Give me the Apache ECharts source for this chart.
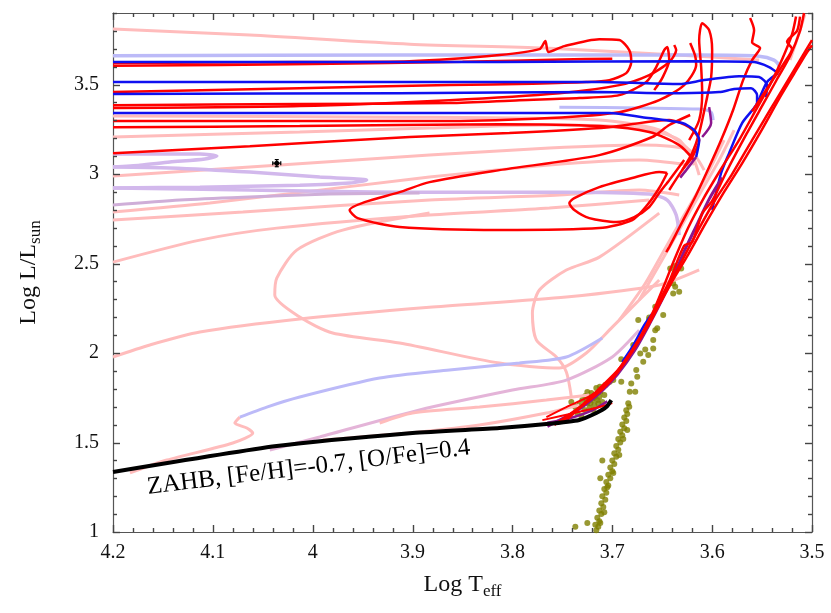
<!DOCTYPE html>
<html>
<head>
<meta charset="utf-8">
<script src="https://cdn.jsdelivr.net/npm/echarts@6/dist/echarts.min.js"></script>
<style>
html, body { margin: 0; padding: 0; background: #fff; }
#hrd { width: 831px; height: 613px; }
</style>
</head>
<body>
<div id="hrd"></div>
<script>
// [Log Teff, Log L] pairs

const zahb = [[4.2,1.335],[4.036,1.48],[3.9,1.553],[3.813,1.581],[3.766,1.603],[3.733,1.626],[3.716,1.665],[3.706,1.698],[3.701,1.737]];

// light pink tracks
const pinkTop = [[4.2,3.810],[4.063,3.777],[3.903,3.726],[3.768,3.704],[3.613,3.659],[3.553,3.637]];
const pink2 = [[4.2,3.324],[3.913,3.318],[3.713,3.302],[3.653,3.246],[3.623,3.134],[3.613,2.994]];
const pink3 = [[4.2,3.207],[4.013,3.235],[3.883,3.257],[3.763,3.274],[3.673,3.257],[3.633,3.190],[3.618,3.050]];
const pink4 = [[4.2,2.989],[3.883,3.106],[3.763,3.145],[3.673,3.162],[3.623,3.134],[3.608,3.022]];
const pink5 = [[4.2,2.788],[4.103,2.838],[3.883,2.983],[3.763,3.050],[3.673,3.078],[3.623,3.050]];
const pink6 = [[4.2,2.743],[4.070,2.788],[3.883,2.855],[3.753,2.883],[3.673,2.911],[3.633,2.883]];
const pink7 = [[4.2,2.508],[4.113,2.631],[4.036,2.698],[3.883,2.771],[3.763,2.810],[3.663,2.855]];
const pink8 = [[3.883,2.782],[3.970,2.687],[4.016,2.575],[4.036,2.419],[4.038,2.324],[4.013,2.201],[3.980,2.112],[3.913,2.056],[3.813,1.944],[3.753,1.916],[3.726,2.0],[3.700,2.145],[3.673,2.296],[3.653,2.408]];
const pinkS = [[3.653,2.782],[3.713,2.536],[3.746,2.464],[3.773,2.352],[3.780,2.223],[3.776,2.073],[3.756,1.978],[3.746,1.894],[3.741,1.754]];
const pink9 = [[4.2,1.978],[4.163,2.045],[4.113,2.117],[4.013,2.190],[3.880,2.257],[3.746,2.313],[3.653,2.380],[3.613,2.464]];
const pink10 = [[4.043,1.458],[3.993,1.531],[3.893,1.682],[3.800,1.793],[3.746,1.849],[3.700,1.978],[3.673,2.128]];
const pinkL2 = [[3.990,1.514],[3.953,1.531],[3.893,1.559],[3.833,1.598],[3.766,1.665],[3.733,1.709]];
const pinkL3 = [[3.933,1.609],[3.900,1.665],[3.833,1.698],[3.766,1.737],[3.723,1.765]];
const pinkLowStart = [[4.183,1.330],[4.146,1.402],[4.080,1.497],[4.060,1.553],[4.066,1.581],[4.078,1.609],[4.073,1.642]];
const pinkF2 = [[3.673,2.296],[3.653,2.492],[3.633,2.687],[3.613,2.883],[3.593,3.078],[3.578,3.246]];
const pinkF3 = [[3.693,2.184],[3.668,2.380],[3.648,2.575],[3.628,2.771],[3.608,2.966],[3.588,3.190]];
const pinkTR = [[3.522,3.637],[3.512,3.804],[3.507,3.894]];

// lavender tracks
const lavTop = [[4.2,3.661],[3.913,3.665],[3.713,3.665],[3.613,3.665],[3.553,3.659],[3.538,3.637],[3.533,3.603],[3.534,3.553]];
const lavMid = [[3.753,3.374],[3.670,3.369],[3.613,3.363],[3.601,3.346],[3.599,3.302]];
const lavA = [[4.2,3.112],[4.153,3.112],[4.113,3.112],[4.096,3.101],[4.108,3.084],[4.143,3.067],[4.173,3.050],[4.2,3.039]];
const lavB = [[4.2,3.039],[4.143,3.034],[4.063,3.011],[3.993,2.983],[3.946,2.966],[3.963,2.950],[4.013,2.938],[4.113,2.927],[4.2,2.922]];
const lavC = [[4.2,2.922],[4.063,2.911],[3.893,2.899],[3.753,2.899],[3.663,2.888],[3.645,2.855],[3.636,2.771],[3.633,2.659]];
const lavD = [[4.2,2.827],[4.133,2.855],[4.070,2.871],[3.983,2.888],[3.893,2.894]];
const lavLow = [[4.073,1.642],[4.046,1.698],[4.013,1.754],[3.933,1.860],[3.863,1.905],[3.793,1.944],[3.746,1.978],[3.710,2.084]];

// blue tracks
const blue1 = [[4.2,3.626],[3.813,3.626],[3.613,3.631],[3.558,3.626],[3.543,3.598],[3.534,3.564]];
const blue2 = [[4.2,3.514],[3.913,3.514],[3.713,3.514],[3.633,3.503],[3.608,3.525],[3.573,3.547],[3.553,3.542],[3.545,3.497],[3.546,3.430]];
const blue3 = [[4.2,3.447],[3.913,3.452],[3.713,3.458],[3.633,3.452],[3.593,3.458],[3.578,3.475],[3.561,3.480],[3.555,3.441],[3.555,3.374]];
const blue4 = [[4.2,3.341],[3.913,3.341],[3.703,3.341],[3.670,3.318],[3.630,3.285],[3.618,3.246],[3.613,3.190],[3.616,3.095]];
const blueRgbUp = [[3.600,2.80],[3.591,3.006],[3.583,3.117],[3.570,3.285],[3.556,3.385],[3.545,3.514],[3.534,3.564]];
const blueRgbLow = [[3.690,1.95],[3.680,2.034],[3.668,2.156],[3.660,2.22]];

// purple pieces
const purpleRgb = [[3.765,1.59],[3.735,1.68],[3.712,1.78],[3.695,1.88],[3.677,2.02],[3.662,2.17],[3.650,2.30],[3.638,2.44],[3.627,2.58],[3.615,2.72],[3.603,2.86],[3.590,2.98]];
const purpleHook = [[3.616,3.095],[3.626,3.022],[3.632,2.98]];
const purpleHook2 = [[3.603,3.374],[3.601,3.285],[3.610,3.207]];
const purpleClump = [[3.765,1.61],[3.740,1.64],[3.720,1.68],[3.705,1.73]];

// bright red tracks
const red1 = [[4.2,3.620],[4.013,3.626],[3.903,3.631],[3.813,3.665],[3.773,3.698],[3.767,3.743],[3.764,3.682],[3.748,3.715],[3.713,3.754],[3.693,3.749],[3.683,3.693],[3.681,3.626],[3.686,3.564],[3.703,3.525],[3.726,3.514],[3.780,3.505],[3.863,3.497],[4.013,3.480],[4.2,3.458]];
const red1b = [[4.2,3.605],[4.0,3.615],[3.85,3.628],[3.75,3.64],[3.70,3.645]];
const redC = [[4.2,3.385],[4.013,3.391],[3.863,3.397],[3.793,3.413],[3.733,3.425],[3.693,3.441],[3.666,3.514],[3.656,3.598],[3.648,3.693],[3.645,3.710],[3.643,3.637],[3.650,3.536],[3.658,3.469]];
const redD = [[4.2,3.369],[4.013,3.380],[3.863,3.413],[3.753,3.452],[3.693,3.497],[3.663,3.553],[3.643,3.626],[3.636,3.693],[3.638,3.721]];
const redE = [[4.2,3.296],[4.013,3.296],[3.863,3.296],[3.763,3.313],[3.693,3.346],[3.653,3.413],[3.628,3.497],[3.616,3.609],[3.617,3.660],[3.622,3.732]];
const redF = [[4.2,3.262],[4.013,3.268],[3.813,3.279],[3.713,3.268],[3.663,3.235],[3.633,3.162],[3.618,3.078]];
const redG = [[4.2,3.117],[4.063,3.156],[3.903,3.207],[3.803,3.229],[3.703,3.262],[3.643,3.302],[3.623,3.262],[3.613,3.190],[3.620,3.095],[3.630,3.022],[3.643,2.911]];
const redLoop = [[3.622,3.330],[3.643,3.274],[3.660,3.207],[3.713,3.106],[3.813,3.022],[3.883,2.955],[3.913,2.899],[3.948,2.843],[3.963,2.799],[3.955,2.754],[3.913,2.704],[3.813,2.687],[3.713,2.698],[3.680,2.743],[3.665,2.827],[3.653,2.922],[3.645,3.006]];
const redLoop2 = [[3.645,3.006],[3.653,3.011],[3.680,2.978],[3.713,2.927],[3.738,2.866],[3.743,2.838],[3.738,2.799],[3.723,2.754],[3.696,2.732],[3.678,2.760],[3.663,2.816],[3.653,2.894],[3.643,2.966],[3.628,3.078]];
const redSpike = [[3.562,3.872],[3.558,3.804],[3.560,3.737],[3.552,3.704],[3.560,3.637],[3.569,3.525],[3.579,3.358],[3.591,3.190],[3.603,3.039],[3.616,2.883],[3.630,2.732],[3.643,2.592],[3.646,2.564]];
const redTall = [[3.630,3.022],[3.620,3.117],[3.613,3.229],[3.605,3.430],[3.601,3.542],[3.600,3.693],[3.603,3.804],[3.610,3.843],[3.613,3.749],[3.611,3.598],[3.610,3.452],[3.613,3.302],[3.623,3.190]];
const rgbA = [[3.758,1.598],[3.723,1.737],[3.701,1.849],[3.681,2.0],[3.661,2.184],[3.646,2.352],[3.632,2.497],[3.614,2.687],[3.597,2.855],[3.580,3.0],[3.560,3.19],[3.542,3.358],[3.527,3.497],[3.512,3.637],[3.500,3.749]];
const rgbB = [[3.750,1.62],[3.718,1.76],[3.697,1.88],[3.678,2.03],[3.660,2.22],[3.648,2.38],[3.638,2.52],[3.624,2.70],[3.608,2.87],[3.592,3.02],[3.572,3.20],[3.556,3.36],[3.542,3.50],[3.530,3.64],[3.520,3.78],[3.516,3.88]];
const rgbC = [[3.700,1.86],[3.676,2.05],[3.655,2.25],[3.638,2.42],[3.624,2.55],[3.606,2.73],[3.588,2.90],[3.570,3.06],[3.550,3.25],[3.533,3.42],[3.518,3.56],[3.505,3.68],[3.500,3.72]];
const rgbD = [[3.745,1.63],[3.715,1.79],[3.692,1.92],[3.672,2.09],[3.655,2.27],[3.643,2.40],[3.628,2.60],[3.620,2.62],[3.610,2.78],[3.600,2.85],[3.585,3.02],[3.566,3.22],[3.548,3.40],[3.536,3.52],[3.522,3.66],[3.512,3.80],[3.508,3.90]];
const rgbE = [[3.560,3.35],[3.540,3.52],[3.528,3.62],[3.520,3.70],[3.525,3.74],[3.515,3.80],[3.512,3.88]];
const redClump1 = [[3.766,1.642],[3.746,1.698],[3.726,1.749],[3.713,1.793]];
const redClump2 = [[3.770,1.625],[3.738,1.665],[3.713,1.698],[3.700,1.720]];

// observed stars
const starsLower = [[3.716,1.01],[3.714,1.03],[3.717,1.04],[3.713,1.06],[3.715,1.08],[3.711,1.10],[3.713,1.12],[3.709,1.14],[3.711,1.16],[3.707,1.18],[3.710,1.20],[3.706,1.22],[3.708,1.24],[3.704,1.26],[3.706,1.28],[3.702,1.30],[3.704,1.32],[3.700,1.34],[3.702,1.36],[3.698,1.38],[3.700,1.40],[3.696,1.42],[3.698,1.44],[3.694,1.46],[3.696,1.48],[3.692,1.50],[3.694,1.52],[3.690,1.54],[3.692,1.56],[3.688,1.58],[3.690,1.60],[3.686,1.62],[3.688,1.64],[3.685,1.66],[3.686,1.68],[3.683,1.70],[3.684,1.72],[3.710,1.40],[3.712,1.30],[3.725,1.05],[3.737,1.03],[3.685,1.57],[3.712,1.05],[3.708,1.11],[3.705,1.25],[3.699,1.33],[3.693,1.43],[3.689,1.52]];
const starsClump = [[3.733,1.709],[3.730,1.737],[3.727,1.760],[3.725,1.721],[3.723,1.749],[3.721,1.777],[3.720,1.737],[3.718,1.709],[3.717,1.765],[3.715,1.737],[3.713,1.754],[3.712,1.782],[3.710,1.726],[3.723,1.693],[3.728,1.682],[3.716,1.804],[3.708,1.765],[3.725,1.782],[3.719,1.682],[3.741,1.726],[3.735,1.665],[3.737,1.698],[3.731,1.648],[3.707,1.821],[3.722,1.720],[3.718,1.750],[3.726,1.740],[3.714,1.720]];
const starsUpper = [[3.7125,1.812],[3.7025,1.84],[3.699,1.85],[3.691,1.84],[3.681,1.83],[3.6825,1.784],[3.677,1.784],[3.676,1.905],[3.675,1.868],[3.691,1.965],[3.669,1.951],[3.672,1.998],[3.664,1.989],[3.667,2.02],[3.659,2.026],[3.659,2.073],[3.679,2.045],[3.657,2.128],[3.655,2.138],[3.663,2.188],[3.663,2.199],[3.674,2.184],[3.649,2.212],[3.657,2.259],[3.639,2.333],[3.633,2.343],[3.637,2.371],[3.639,2.389],[3.642,2.473],[3.637,2.486],[3.631,2.473]];

const errPoint = [[4.036, 3.061]];
const errT = 0.004;
const errL = 0.02;

const zahbLabel = 'ZAHB, [Fe/H]=-0.7, [O/Fe]=0.4';
const zahbLabelAt = [4.004, 1.36];

const xTicks = { min: 3.5, max: 4.2, interval: 0.1, minorStep: 0.02 };
const yTicks = { min: 1, max: 3.9, interval: 0.5, minorStep: 0.1 };

const RED = '#ff0000';
const PINK = '#ffbcbc';
const BLUE = '#1010f0';
const LAV = '#bcbaf8';
const LAV2 = '#d2b8ec';
const PURPLE = '#8c168e';
const OLIVE = '#808000';
const FRAME = '#555';

function track(data, color, width) {
  return {
    type: 'line',
    data: data,
    showSymbol: false,
    symbol: 'none',
    smooth: 0.25,
    lineStyle: { color: color, width: width },
    silent: true,
  };
}

function stars(data) {
  return {
    type: 'scatter',
    data: data,
    symbolSize: 6,
    itemStyle: { color: OLIVE },
    silent: true,
  };
}

// positions of the inward frame ticks (major and minor) along one axis
function tickValues(range) {
  const out = [];
  const n = Math.round((range.max - range.min) / range.minorStep);
  const per = Math.round(range.interval / range.minorStep);
  for (let i = 0; i <= n; i++) {
    out.push({ v: +(range.min + i * range.minorStep).toFixed(3), major: i % per === 0 });
  }
  return out;
}

const serif = 'Liberation Serif';
const axisLine = { show: true, lineStyle: { color: FRAME, width: 1.2 } };
const nameRich = {
  a: { fontFamily: serif, fontSize: 24, color: '#111', verticalAlign: 'top', lineHeight: 24 },
  b: { fontFamily: serif, fontSize: 17, color: '#111', lineHeight: 17, padding: [13, 0, 0, 0] },
};

function frameAxis(pos, range) {
  return {
    type: 'value',
    min: range.min,
    max: range.max,
    interval: range.interval,
    position: pos,
    splitLine: { show: false },
    axisLine: axisLine,
    axisTick: { show: false },
  };
}

const chart = echarts.init(document.getElementById('hrd'));
const option = {
  animation: false,
  backgroundColor: '#fff',
  grid: { left: 113, right: 19, top: 13, bottom: 81 },
  xAxis: [
    Object.assign(frameAxis('bottom', xTicks), {
      inverse: true,
      axisLabel: { fontFamily: serif, fontSize: 20, color: '#111', margin: 11 },
      name: '{a|Log T}{b|eff}',
      nameLocation: 'middle',
      nameGap: 41,
      nameTextStyle: { rich: nameRich },
    }),
    Object.assign(frameAxis('top', xTicks), { inverse: true, axisLabel: { show: false } }),
  ],
  yAxis: [
    Object.assign(frameAxis('left', yTicks), {
      axisLabel: { fontFamily: serif, fontSize: 20, color: '#111', margin: 14, showMaxLabel: false },
      name: '{a|Log L/L}{b|sun}',
      nameLocation: 'middle',
      nameGap: 72,
      nameRotate: 90,
      nameTextStyle: { rich: nameRich },
    }),
    Object.assign(frameAxis('right', yTicks), { axisLabel: { show: false } }),
  ],
  series: [
    // pink
    track(pinkTop, PINK, 3),
    track(pink2, PINK, 3),
    track(pink3, PINK, 3),
    track(pink4, PINK, 3),
    track(pink5, PINK, 3),
    track(pink6, PINK, 3),
    track(pink7, PINK, 3),
    track(pink8, PINK, 3),
    track(pinkS, PINK, 3),
    track(pink9, PINK, 3),
    track(pink10, '#e4b4d8', 3),
    track(pinkL2, PINK, 3),
    track(pinkL3, PINK, 3),
    track(pinkLowStart, PINK, 3),
    track(pinkF2, PINK, 3),
    track(pinkF3, PINK, 3),
    track(pinkTR, PINK, 3),
    // lavender
    track(lavTop, LAV, 3.5),
    track(lavMid, LAV, 3),
    track(lavA, LAV2, 3.5),
    track(lavB, LAV2, 3.5),
    track(lavC, LAV2, 3.5),
    track(lavD, '#cfaed8', 3),
    track(lavLow, LAV, 3),
    // red
    track(red1, RED, 2.5),
    track(red1b, RED, 2.5),
    track(redC, RED, 2.5),
    track(redD, RED, 2.5),
    track(redE, RED, 2.5),
    track(redF, RED, 2.5),
    track(redG, RED, 2.5),
    track(redLoop, RED, 2.5),
    track(redLoop2, RED, 2.5),
    track(redSpike, RED, 2.5),
    track(redTall, RED, 2.5),
    // blue
    track(blue1, BLUE, 2.5),
    track(blue2, BLUE, 2.5),
    track(blue3, BLUE, 2.5),
    track(blue4, BLUE, 2.5),
    track(blueRgbUp, BLUE, 2.5),
    // purple
    track(purpleRgb, PURPLE, 3),
    track(blueRgbLow, BLUE, 2.5),
    track(purpleHook, PURPLE, 2.5),
    track(purpleHook2, PURPLE, 2.5),
    track(purpleClump, PURPLE, 2.5),
    // red giant branch
    track(rgbA, RED, 2.5),
    track(rgbB, RED, 2.5),
    track(rgbC, RED, 2.5),
    track(rgbD, RED, 2.5),
    track(rgbE, RED, 2.5),
    track(redClump1, RED, 2),
    track(redClump2, RED, 2),
    // ZAHB
    Object.assign(track(zahb, '#000', 4), { smooth: 0.2 }),
    // stars
    stars(starsLower),
    stars(starsClump),
    stars(starsUpper),
    // error bar point, plus the frame ticks drawn once with it
    {
      type: 'custom',
      data: errPoint,
      silent: true,
      z: 6,
      renderItem: function (params, api) {
        const t = api.value(0);
        const l = api.value(1);
        const c = api.coord([t, l]);
        const a = api.coord([t + errT, l]);
        const b = api.coord([t - errT, l]);
        const u = api.coord([t, l + errL]);
        const d = api.coord([t, l - errL]);
        const st = { stroke: '#000', lineWidth: 1.2 };
        const kids = [
          { type: 'line', shape: { x1: a[0], y1: a[1], x2: b[0], y2: b[1] }, style: st },
          { type: 'line', shape: { x1: u[0], y1: u[1], x2: d[0], y2: d[1] }, style: st },
          { type: 'line', shape: { x1: a[0], y1: a[1] - 2, x2: a[0], y2: a[1] + 2 }, style: st },
          { type: 'line', shape: { x1: b[0], y1: b[1] - 2, x2: b[0], y2: b[1] + 2 }, style: st },
          { type: 'line', shape: { x1: u[0] - 2, y1: u[1], x2: u[0] + 2, y2: u[1] }, style: st },
          { type: 'line', shape: { x1: d[0] - 2, y1: d[1], x2: d[0] + 2, y2: d[1] }, style: st },
          { type: 'circle', shape: { cx: c[0], cy: c[1], r: 2.5 }, style: { fill: '#000' } },
        ];
        const lo = api.coord([xTicks.max, yTicks.min]);
        const hi = api.coord([xTicks.min, yTicks.max]);
        const ts = { stroke: '#444', lineWidth: 1.4 };
        tickValues(xTicks).forEach(function (k) {
          const x = Math.round(api.coord([k.v, 2])[0]) + 0.5;
          const len = k.major ? 7 : 4;
          kids.push({ type: 'line', shape: { x1: x, y1: lo[1], x2: x, y2: lo[1] - len }, style: ts });
          kids.push({ type: 'line', shape: { x1: x, y1: hi[1], x2: x, y2: hi[1] + len }, style: ts });
        });
        tickValues(yTicks).forEach(function (k) {
          const y = Math.round(api.coord([3.8, k.v])[1]) + 0.5;
          const len = k.major ? 7 : 4;
          kids.push({ type: 'line', shape: { x1: lo[0], y1: y, x2: lo[0] + len, y2: y }, style: ts });
          kids.push({ type: 'line', shape: { x1: hi[0], y1: y, x2: hi[0] - len, y2: y }, style: ts });
        });
        return { type: 'group', children: kids };
      },
    },
    // ZAHB label
    {
      type: 'custom',
      data: [zahbLabelAt],
      silent: true,
      z: 10,
      renderItem: function (params, api) {
        const p = api.coord([api.value(0), api.value(1)]);
        return {
          type: 'text',
          x: p[0],
          y: p[1],
          rotation: 7 * Math.PI / 180,
          style: {
            text: zahbLabel,
            fontFamily: serif,
            fontSize: 25,
            fill: '#000',
            align: 'center',
            verticalAlign: 'middle',
          },
        };
      },
    },
  ],
};
chart.setOption(option);
</script>
</body>
</html>
